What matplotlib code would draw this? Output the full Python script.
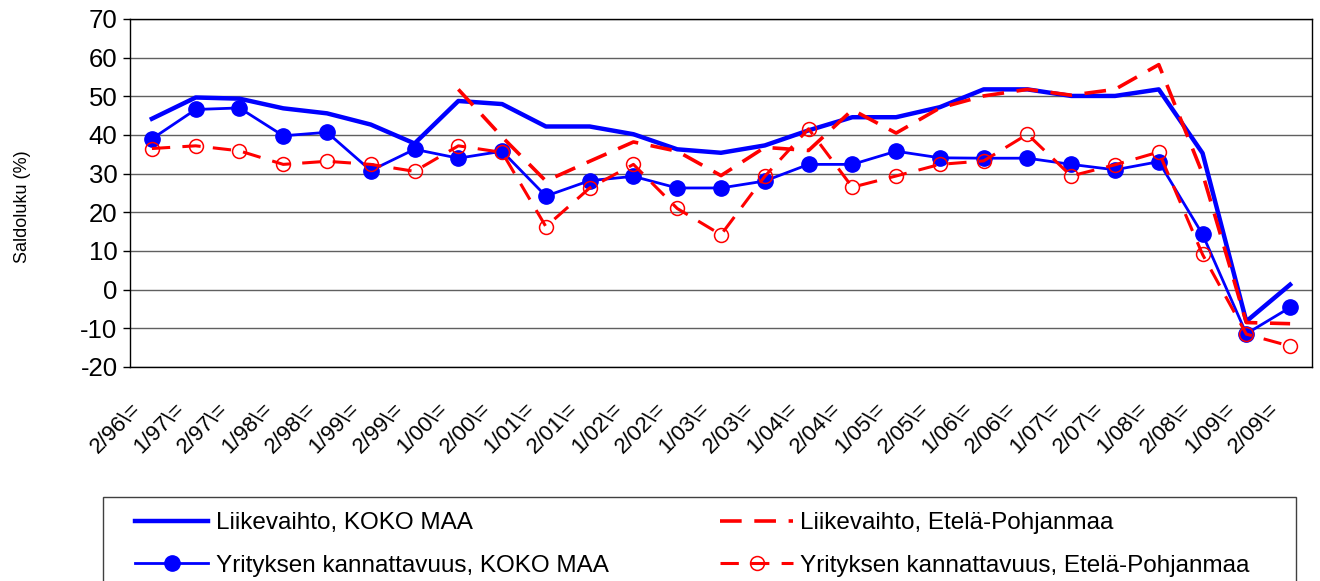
import numpy as np
import matplotlib
matplotlib.use('Agg')
import matplotlib.pyplot as plt
import matplotlib.transforms as mtransforms
from matplotlib.patches import Rectangle

plt.rcParams['font.family'] = ['Liberation Sans', 'DejaVu Sans']
plt.rcParams['axes.unicode_minus'] = False

# category labels (half-year periods)
periods = ['2/96', '1/97', '2/97', '1/98', '2/98', '1/99', '2/99', '1/00', '2/00',
           '1/01', '2/01', '1/02', '2/02', '1/03', '2/03', '1/04', '2/04', '1/05',
           '2/05', '1/06', '2/06', '1/07', '2/07', '1/08', '2/08', '1/09', '2/09']
tick_labels = [p + '\\=' for p in periods]

nan = np.nan
liikevaihto_koko = [44.2, 49.7, 49.4, 46.9, 45.6, 42.7, 37.8, 48.8, 48.0, 42.2, 42.2,
                    40.2, 36.3, 35.4, 37.3, 41.2, 44.6, 44.6, 47.2, 51.8, 51.8, 50.1,
                    50.1, 51.8, 35.3, -8.2, 1.3]
kannattavuus_koko = [39.0, 46.6, 47.0, 39.8, 40.7, 30.8, 36.3, 34.0, 35.8, 24.2, 28.2,
                     29.3, 26.3, 26.3, 28.1, 32.4, 32.4, 35.8, 34.1, 34.0, 34.0, 32.4,
                     31.0, 33.1, 14.3, -11.4, -4.6]
liikevaihto_ep = [nan, nan, nan, nan, nan, nan, nan, 51.8, 39.5, 28.1, 33.2, 38.2, 35.8,
                  29.5, 36.8, 36.0, 46.5, 40.5, 47.0, 50.1, 51.8, 50.3, 51.8, 58.2,
                  30.0, -8.5, -8.8]
kannattavuus_ep = [36.5, 37.2, 35.9, 32.4, 33.2, 32.4, 30.6, 37.2, 35.5, 16.3, 26.3,
                   32.4, 21.0, 14.2, 29.3, 41.6, 26.5, 29.4, 32.4, 33.3, 40.2, 29.4,
                   32.3, 35.6, 9.1, -11.5, -14.6]

fig = plt.figure(figsize=(13.2, 5.81), dpi=100)
ax = fig.add_axes([130 / 1320, 1 - 367 / 581, 1182 / 1320, 348 / 581])

x = np.arange(len(periods))
blue = '#0000ff'
red = '#ff0000'

ax.plot(x, liikevaihto_koko, color=blue, lw=3.2, label='Liikevaihto, KOKO MAA', zorder=3)
ax.plot(x, kannattavuus_koko, color=blue, lw=2, marker='o', markersize=11,
        label='Yrityksen kannattavuus, KOKO MAA', zorder=4)
ax.plot(x, liikevaihto_ep, color=red, lw=2.6, dashes=(6, 3.5),
        label='Liikevaihto, Etelä-Pohjanmaa', zorder=5)
ax.plot(x, kannattavuus_ep, color=red, lw=2.2, dashes=(6, 4), marker='o', markersize=10,
        markerfacecolor='none', markeredgecolor=red, markeredgewidth=1.1,
        label='Yrityksen kannattavuus, Etelä-Pohjanmaa', zorder=6)

ax.set_xlim(-0.5, len(periods) - 0.5)
ax.set_ylim(-20, 70)
ax.set_yticks(range(-20, 71, 10))
ax.yaxis.grid(True, color='#606060', lw=1)
ax.set_axisbelow(True)
ax.tick_params(axis='y', direction='out', length=5, width=1, pad=4, labelsize=18.5)
ax.tick_params(axis='x', length=0, pad=28, labelsize=16)
for s in ax.spines.values():
    s.set_color('black')
    s.set_linewidth(1)

ax.set_xticks(x)
ax.set_xticklabels(tick_labels, rotation=45, ha='right', va='center', rotation_mode='anchor')
offset = mtransforms.ScaledTranslation(-14 / 100, 0, fig.dpi_scale_trans)
for lab in ax.get_xticklabels():
    lab.set_transform(lab.get_transform() + offset)

ax.set_ylabel('Saldoluku (%)', fontsize=13)
ax.yaxis.set_label_coords(-0.084, 0.46)

# legend box, cut by the bottom edge as in the original
fig.patches.append(Rectangle((103 / 1320, -0.05), 1193 / 1320, 1 - 497 / 581 + 0.05,
                             transform=fig.transFigure, fill=False,
                             edgecolor='#404040', lw=1))
handles, labels = ax.get_legend_handles_labels()
leg = fig.legend(handles, labels, ncol=2, loc='upper left',
                 bbox_to_anchor=(128 / 1320, 1 - 505 / 581),
                 fontsize=17.5, frameon=False, handlelength=3.0, handletextpad=0.3,
                 columnspacing=4.6, borderpad=0.3, labelspacing=0.85, borderaxespad=0)

fig.savefig('out.png', dpi=100)
